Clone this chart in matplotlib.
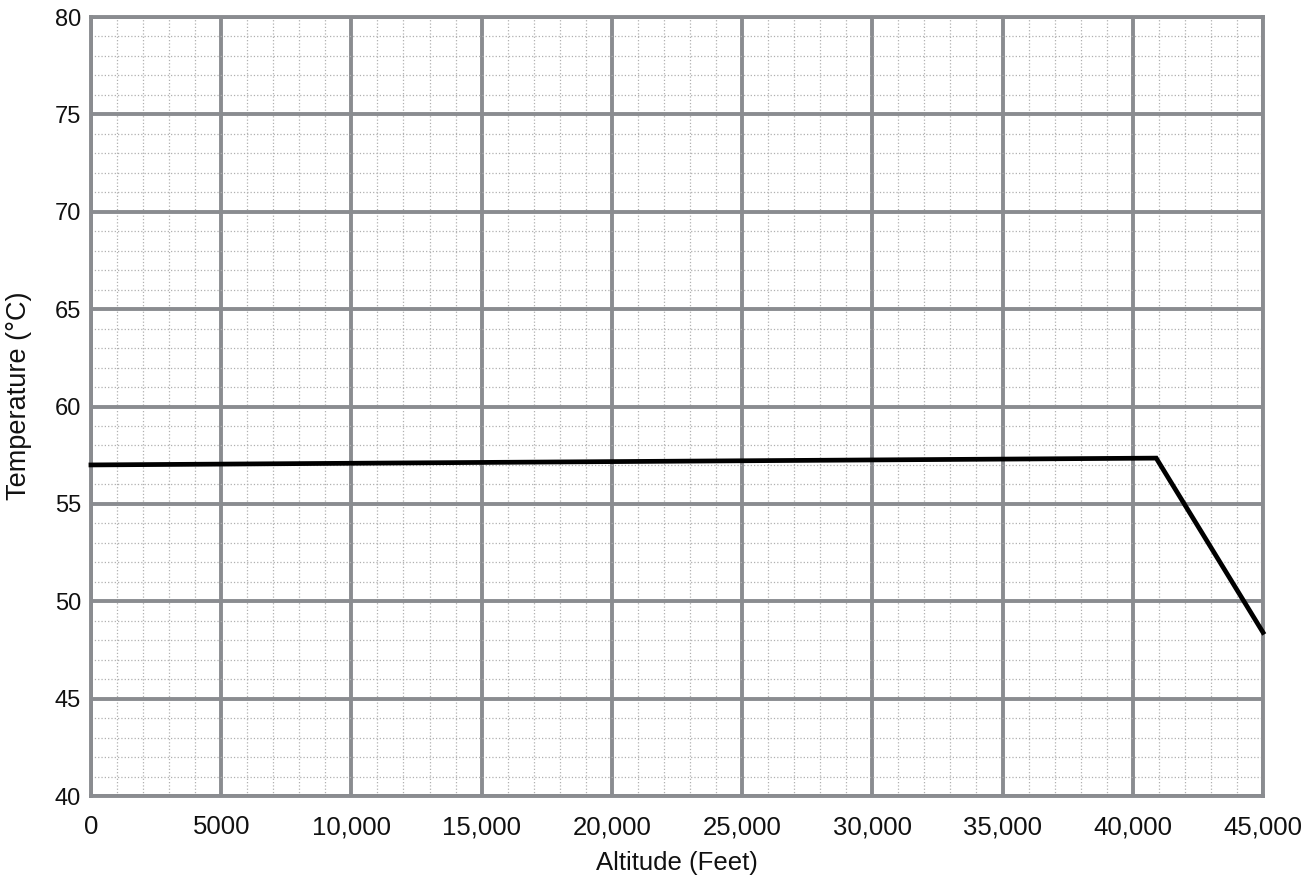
import matplotlib
matplotlib.use("Agg")
import matplotlib.pyplot as plt
from matplotlib.ticker import MultipleLocator

altitude = [0, 40900, 45000]
temperature = [57.0, 57.35, 48.4]

x_ticks = [0, 5000, 10000, 15000, 20000, 25000, 30000, 35000, 40000, 45000]
x_labels = ["0", "5000", "10,000", "15,000", "20,000", "25,000", "30,000", "35,000", "40,000", "45,000"]
y_ticks = [40, 45, 50, 55, 60, 65, 70, 75, 80]

plt.rcParams['font.family'] = ['Liberation Sans', 'DejaVu Sans']
fig = plt.figure(figsize=(13.03, 8.82), dpi=100)
ax = fig.add_axes([0.0698, 0.0975, 0.8995, 0.8832])

ax.set_xlim(0, 45000)
ax.set_ylim(40, 80)
ax.set_xticks(x_ticks)
ax.set_xticklabels(x_labels, fontsize=18.5, color='#111111')
ax.set_yticks(y_ticks)
ax.set_yticklabels([str(v) for v in y_ticks], fontsize=17, color='#111111')
ax.xaxis.set_minor_locator(MultipleLocator(1000))
ax.yaxis.set_minor_locator(MultipleLocator(1))

ax.grid(which='minor', color='#b0b0b0', linestyle=':', linewidth=0.9)
ax.grid(which='major', color='#8a8c90', linestyle='-', linewidth=2.8)
ax.set_axisbelow(True)
for s in ax.spines.values():
    s.set_color('#8a8c90')
    s.set_linewidth(2.8)

ax.tick_params(which='both', length=0)
ax.tick_params(axis='x', pad=14)
ax.tick_params(axis='y', pad=7)

ax.plot(altitude, temperature, color='black', linewidth=3.4, solid_joinstyle='miter', zorder=5, clip_on=False)

ax.set_xlabel("Altitude (Feet)", fontsize=18.5, labelpad=8, color='#111111')
fig.text(19 / 1303, 1 - 396 / 882, "Temperature (°C)", rotation=90, ha='center', va='center',
         fontsize=19.5, color='#111111')

fig.savefig("out.png", dpi=100)
